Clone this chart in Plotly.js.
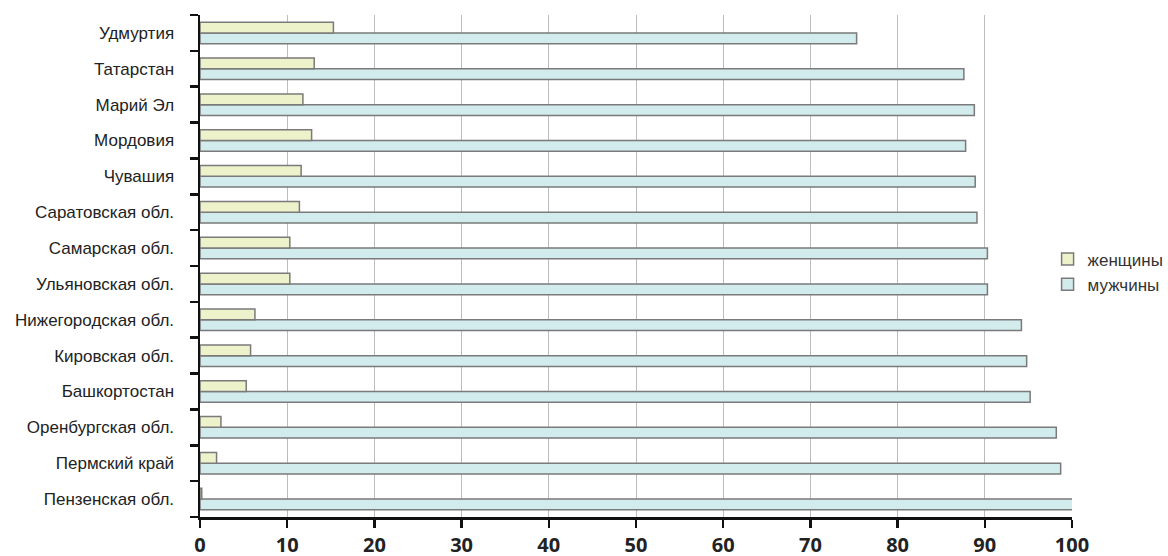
<!DOCTYPE html>
<html>
<head>
<meta charset="utf-8">
<script src="https://cdn.plot.ly/plotly-3.0.1.min.js"></script>
<style>html,body{margin:0;padding:0;background:#fff;}#chart{width:1168px;height:556px;}</style>
</head>
<body>
<div id="chart"></div>
<script>
// Categories listed bottom to top
var regions = ["Пензенская обл.", "Пермский край", "Оренбургская обл.", "Башкортостан", "Кировская обл.", "Нижегородская обл.", "Ульяновская обл.", "Самарская обл.", "Саратовская обл.", "Чувашия", "Мордовия", "Марий Эл", "Татарстан", "Удмуртия"];
var women = [0.2, 1.9, 2.4, 5.3, 5.8, 6.3, 10.3, 10.3, 11.4, 11.6, 12.8, 11.8, 13.1, 15.3];
var men = [100.3, 98.7, 98.2, 95.2, 94.8, 94.2, 90.3, 90.3, 89.1, 88.9, 87.8, 88.8, 87.6, 75.3];
var seriesNames = ["женщины", "мужчины"];
var xTicks = [0, 10, 20, 30, 40, 50, 60, 70, 80, 90, 100];

var data = [
  {type: "bar", orientation: "h", name: seriesNames[1], y: regions, x: men,
   marker: {color: "#d2ebec", line: {color: "#7a7a7a", width: 1.5}}},
  {type: "bar", orientation: "h", name: seriesNames[0], y: regions, x: women,
   marker: {color: "#eef2cb", line: {color: "#7a7a7a", width: 1.5}}}
];

var layout = {
  width: 1168, height: 556,
  margin: {l: 200, r: 96, t: 15, b: 39, autoexpand: false},
  paper_bgcolor: "#fff", plot_bgcolor: "#fff",
  barmode: "group", bargap: 0.4, bargroupgap: 0,
  showlegend: true,
  legend: {x: 0.972, y: 0.488, xanchor: "left", yanchor: "middle", traceorder: "reversed",
           font: {family: "Liberation Sans, Arial, sans-serif", size: 17, color: "#333"},
           itemwidth: 30, tracegroupgap: 0, bgcolor: "rgba(0,0,0,0)"},
  xaxis: {range: [0, 100], tickvals: xTicks, ticktext: xTicks.map(String),
          showgrid: true, gridcolor: "#bdbdbd", gridwidth: 1, zeroline: false,
          showline: true, linecolor: "#111", linewidth: 2.5,
          ticks: "outside", ticklen: 8, tickwidth: 2.5, tickcolor: "#111",
          tickfont: {family: "Open Sans, DejaVu Sans, sans-serif", size: 20, color: "#222", weight: "bold"},
          fixedrange: true},
  yaxis: {type: "category", tickson: "boundaries", ticks: "outside", ticklen: 8, tickwidth: 2.5, tickcolor: "#111",
          showline: true, linecolor: "#111", linewidth: 2.5, showgrid: false,
          ticklabelstandoff: 20,
          tickfont: {family: "Liberation Sans, Arial, sans-serif", size: 17, color: "#222"},
          fixedrange: true}
};

Plotly.newPlot("chart", data, layout, {displayModeBar: false, staticPlot: true});
</script>
</body>
</html>
